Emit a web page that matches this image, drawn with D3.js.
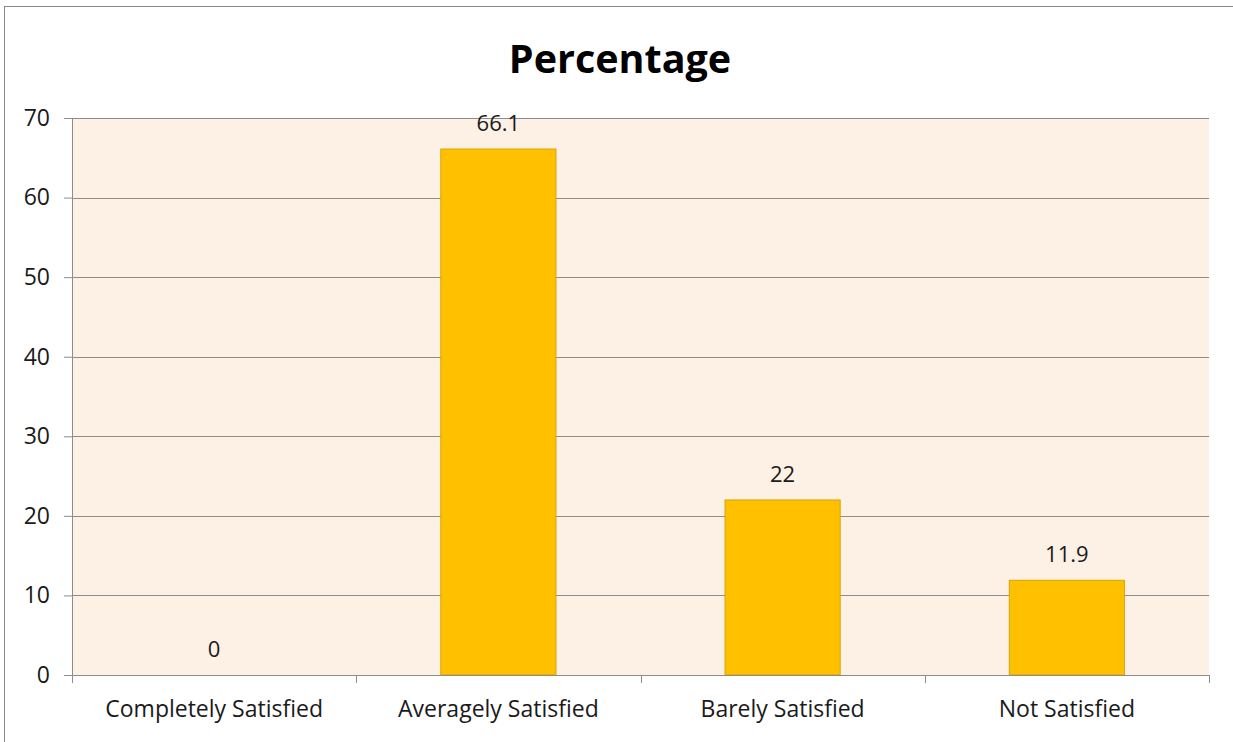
<!DOCTYPE html>
<html>
<head>
<meta charset="utf-8">
<script src="https://cdn.jsdelivr.net/npm/d3@7"></script>
<style>
  body { margin: 0; background: #fff; }
  text { font-family: "Open Sans", sans-serif; fill: #1a1a1a; }
</style>
</head>
<body>
<div id="chart"></div>
<script>
// chart data
var categories = ["Completely Satisfied", "Averagely Satisfied", "Barely Satisfied", "Not Satisfied"];
var values = [0, 66.1, 22, 11.9];
var labels = ["0", "66.1", "22", "11.9"];
var yTicks = [0, 10, 20, 30, 40, 50, 60, 70];

var width = 1233, height = 742;
var margin = { left: 72, right: 24, top: 118, bottom: 67 };
var plotW = width - margin.left - margin.right;
var plotH = height - margin.top - margin.bottom;
var fontSize = '23px';

var svg = d3.select('#chart')
    .append('svg')
    .attr('width', width)
    .attr('height', height);

// outer border of chart area
svg.append('rect')
    .attr('x', 4.5).attr('y', 6.5)
    .attr('width', 1240).attr('height', 760)
    .attr('fill', 'none')
    .attr('stroke', '#888');

svg.append('text')
    .attr('x', 620).attr('y', 73)
    .attr('text-anchor', 'middle')
    .style('font-size', '39.5px')
    .style('font-weight', 'bold')
    .style('fill', '#000')
    .text('Percentage');

var g = svg.append('g')
    .attr('transform', 'translate(' + margin.left + ',' + margin.top + ')');

var x = d3.scaleBand().domain(categories).range([0, plotW]).paddingInner(0).paddingOuter(0);
var y = d3.scaleLinear().domain([0, 70]).range([plotH, 0]);

g.append('rect')
    .attr('width', plotW).attr('height', plotH)
    .attr('fill', '#FDF1E6');

// gridlines
g.selectAll('.grid')
    .data(yTicks.slice(1))
    .enter()
    .append('line')
    .attr('x1', 0).attr('x2', plotW)
    .attr('y1', function (d) { return Math.round(y(d)) + 0.5; })
    .attr('y2', function (d) { return Math.round(y(d)) + 0.5; })
    .attr('stroke', '#8c8c8c');

var barW = x.bandwidth() * 0.405;
g.selectAll('.bar')
    .data(values)
    .enter()
    .append('rect')
    .attr('x', function (d, i) { return x(categories[i]) + (x.bandwidth() - barW) / 2; })
    .attr('y', function (d) { return y(d); })
    .attr('width', barW)
    .attr('height', function (d) { return plotH - y(d); })
    .attr('fill', '#FFC000')
    .attr('stroke', '#D9A300')
    .attr('stroke-width', function (d) { return d > 0 ? 1 : 0; });

g.selectAll('.lbl')
    .data(values)
    .enter()
    .append('text')
    .attr('x', function (d, i) { return x(categories[i]) + x.bandwidth() / 2; })
    .attr('y', function (d) { return y(d) - 18; })
    .attr('text-anchor', 'middle')
    .style('font-size', '22px')
    .text(function (d, i) { return labels[i]; });

var yAxis = g.append('g')
    .call(d3.axisLeft(y).tickValues(yTicks).tickSize(8).tickPadding(14).tickFormat(d3.format('d')));
yAxis.selectAll('text').style('font-size', fontSize).style('font-family', '"Open Sans", sans-serif').style('fill', '#1a1a1a');
yAxis.selectAll('line, path').attr('stroke', '#8c8c8c');

var xAxis = g.append('g')
    .attr('transform', 'translate(0,' + plotH + ')')
    .call(d3.axisBottom(x).tickSize(0).tickPadding(26));
xAxis.selectAll('text').style('font-size', fontSize).style('font-family', '"Open Sans", sans-serif').style('fill', '#1a1a1a');
xAxis.select('path').attr('stroke', '#8c8c8c');

// category boundary ticks
xAxis.selectAll('.sep')
    .data(d3.range(categories.length + 1))
    .enter()
    .append('line')
    .attr('x1', function (i) { return Math.round(i * x.step()) + 0.5; })
    .attr('x2', function (i) { return Math.round(i * x.step()) + 0.5; })
    .attr('y1', 0).attr('y2', 8)
    .attr('stroke', '#8c8c8c');
</script>
</body>
</html>
